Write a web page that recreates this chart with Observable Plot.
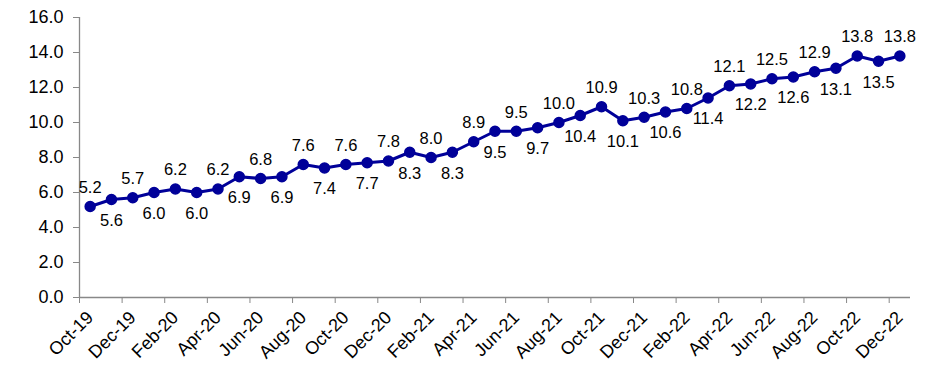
<!DOCTYPE html>
<html><head><meta charset="utf-8">
<script src="https://cdn.jsdelivr.net/npm/d3@7"></script>
<script src="https://cdn.jsdelivr.net/npm/@observablehq/plot@0.6"></script>
<style>body{margin:0;background:#fff;font-family:"Liberation Sans",Arial,sans-serif}</style>
</head><body><div id="chart"></div>
<script>
const months = ["Oct-19","Nov-19","Dec-19","Jan-20","Feb-20","Mar-20","Apr-20","May-20","Jun-20","Jul-20","Aug-20","Sep-20","Oct-20","Nov-20","Dec-20","Jan-21","Feb-21","Mar-21","Apr-21","May-21","Jun-21","Jul-21","Aug-21","Sep-21","Oct-21","Nov-21","Dec-21","Jan-22","Feb-22","Mar-22","Apr-22","May-22","Jun-22","Jul-22","Aug-22","Sep-22","Oct-22","Nov-22","Dec-22"];
const values = [5.2,5.6,5.7,6.0,6.2,6.0,6.2,6.9,6.8,6.9,7.6,7.4,7.6,7.7,7.8,8.3,8.0,8.3,8.9,9.5,9.5,9.7,10.0,10.4,10.9,10.1,10.3,10.6,10.8,11.4,12.1,12.2,12.5,12.6,12.9,13.1,13.8,13.5,13.8];
const yTicks = [0,2,4,6,8,10,12,14,16];

const data = months.map((m,i)=>({i, m, v: values[i]}));
const above = data.filter(d=>d.i%2===0);
const below = data.filter(d=>d.i%2===1);
const labelIdx = data.filter(d=>d.i%2===0).map(d=>d.i);
const boundaryIdx = labelIdx.map(i=>i-0.5);
const xMin = -0.5, xMax = months.length - 0.5;
const blue = "#000099", axisGray = "#888888";

const chart = Plot.plot({
  width: 940, height: 384,
  marginLeft: 79, marginRight: 30, marginTop: 17, marginBottom: 87,
  style: {fontFamily: '"Liberation Sans", Arial, sans-serif', background: "#fff"},
  x: {type: "linear", domain: [xMin, xMax], label: null},
  y: {domain: [0, 16], label: null},
  marks: [
    Plot.ruleY([0], {stroke: axisGray, strokeWidth: 1.3}),
    Plot.ruleX([xMin], {stroke: axisGray, strokeWidth: 1.3}),
    Plot.axisY({ticks: yTicks, tickFormat: d=>d.toFixed(1), tickSize: 6, tickPadding: 10, stroke: axisGray, fontSize: 18, fill: "#000", label: null}),
    Plot.axisX({ticks: boundaryIdx, tickFormat: ()=>"", tickSize: 6, stroke: axisGray, label: null}),
    Plot.axisX({ticks: labelIdx, tickFormat: i=>months[i], tickSize: 0, tickRotate: -45, tickPadding: 17, fontSize: 18, fill: "#000", label: null}),
    Plot.line(data, {x: "i", y: "v", stroke: blue, strokeWidth: 3}),
    Plot.dot(data, {x: "i", y: "v", r: 5, fill: blue, stroke: blue}),
    Plot.text(above, {x: "i", y: "v", text: d=>d.v.toFixed(1), dy: -19, fontSize: 16.5, fill: "#000"}),
    Plot.text(below, {x: "i", y: "v", text: d=>d.v.toFixed(1), dy: 21, fontSize: 16.5, fill: "#000"})
  ]
});
document.getElementById("chart").appendChild(chart);
</script></body></html>
